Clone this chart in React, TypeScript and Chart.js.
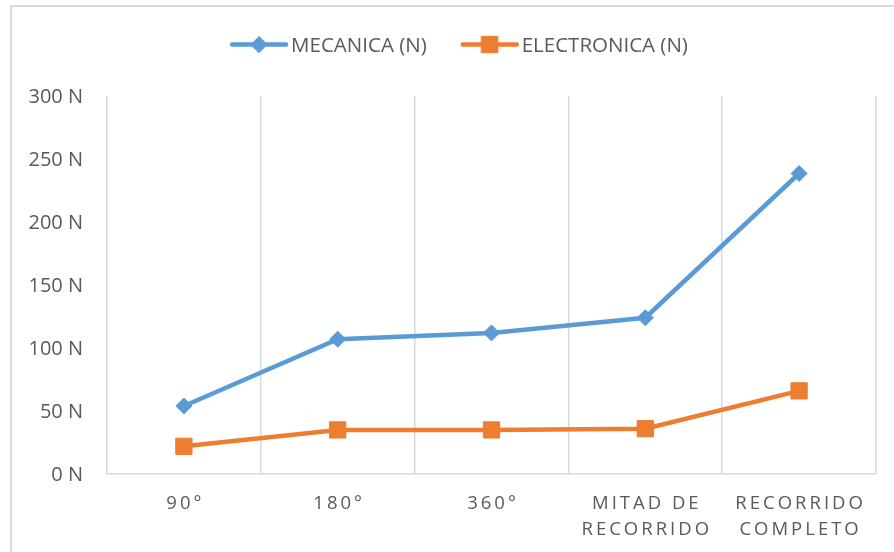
import React, { useEffect, useRef } from 'react';
import { Chart, registerables } from 'chart.js';
import { drawPoint } from 'chart.js/helpers';

Chart.register(...registerables);

// Category labels (one entry per line of the label)
const categories: string[][] = [
  ['90°'],
  ['180°'],
  ['360°'],
  ['MITAD DE', 'RECORRIDO'],
  ['RECORRIDO', 'COMPLETO'],
];

const seriesNames = ['MECANICA (N)', 'ELECTRONICA (N)'];
const mecanica = [54, 107, 112, 124, 238.5];
const electronica = [22, 35, 35, 36, 66];
const yTickValues = [0, 50, 100, 150, 200, 250, 300];

const BLUE = '#5B9BD5';
const ORANGE = '#ED7D31';
const GRID = '#D9D9D9';
const TEXT = '#595959';
const FONT = '"Open Sans", "Noto Sans", sans-serif';

// Legend drawn as a line segment with the series marker on it
const lineLegend = {
  id: 'lineLegend',
  afterDraw(chart: any) {
    const ctx = chart.ctx as CanvasRenderingContext2D;
    const lineLen = 54;
    const gap = 5;
    const between = 36;
    ctx.save();
    ctx.font = `20.5px ${FONT}`;
    const items = chart.data.datasets.map((ds: any) => ({
      ds,
      w: ctx.measureText(ds.label).width,
    }));
    const total =
      items.reduce((s: number, it: any) => s + lineLen + gap + it.w, 0) +
      between * (items.length - 1);
    let x = 460 - total / 2;
    const yLine = 44.5;
    const yText = 51.5;
    for (const it of items) {
      const ds = it.ds;
      ctx.strokeStyle = ds.borderColor;
      ctx.lineWidth = ds.borderWidth;
      ctx.lineCap = 'round';
      ctx.beginPath();
      ctx.moveTo(x, yLine);
      ctx.lineTo(x + lineLen, yLine);
      ctx.stroke();
      ctx.fillStyle = ds.pointBackgroundColor;
      ctx.strokeStyle = ds.pointBorderColor;
      ctx.lineWidth = ds.pointBorderWidth;
      drawPoint(
        ctx,
        {
          pointStyle: ds.pointStyle,
          rotation: 0,
          radius: ds.pointRadius,
          borderWidth: ds.pointBorderWidth,
        } as any,
        x + lineLen / 2,
        yLine
      );
      ctx.fillStyle = TEXT;
      ctx.textAlign = 'left';
      ctx.textBaseline = 'alphabetic';
      ctx.fillText(ds.label, x + lineLen + gap, yText);
      x += lineLen + gap + it.w + between;
    }
    ctx.restore();
  },
};

// Letter-spaced category labels under the x axis
const spacedXLabels = {
  id: 'spacedXLabels',
  afterDraw(chart: any) {
    const ctx = chart.ctx as CanvasRenderingContext2D;
    const xScale = chart.scales.x;
    const spacing = 3;
    ctx.save();
    ctx.font = `18.5px ${FONT}`;
    (ctx as any).letterSpacing = `${spacing}px`;
    ctx.fillStyle = TEXT;
    ctx.textAlign = 'center';
    ctx.textBaseline = 'alphabetic';
    const labels = chart.data.labels as string[][];
    labels.forEach((lines, i) => {
      const cx = xScale.getPixelForValue(i) + spacing / 2;
      lines.forEach((line, j) => {
        ctx.fillText(line, cx, chart.chartArea.bottom + 35 + j * 26);
      });
    });
    ctx.restore();
  },
};

export default function App() {
  const canvasRef = useRef<HTMLCanvasElement>(null);

  useEffect(() => {
    if (!canvasRef.current) return;
    const markerCommon = {
      borderWidth: 4.5,
      pointBorderWidth: 1,
      pointHoverRadius: 8,
      tension: 0,
      fill: false,
    };
    const chart = new Chart(canvasRef.current, {
      type: 'line',
      data: {
        labels: categories as any,
        datasets: [
          {
            label: seriesNames[0],
            data: mecanica,
            borderColor: BLUE,
            backgroundColor: BLUE,
            pointBackgroundColor: BLUE,
            pointBorderColor: BLUE,
            pointStyle: 'rectRot',
            pointRadius: 8,
            ...markerCommon,
          },
          {
            label: seriesNames[1],
            data: electronica,
            borderColor: ORANGE,
            backgroundColor: ORANGE,
            pointBackgroundColor: ORANGE,
            pointBorderColor: ORANGE,
            pointStyle: 'rect',
            pointRadius: 11.5,
            ...markerCommon,
          },
        ],
      },
      plugins: [lineLegend, spacedXLabels],
      options: {
        responsive: false,
        animation: false,
        devicePixelRatio: 1,
        layout: { padding: { left: 0, top: 96, right: 18, bottom: 0 } },
        plugins: {
          legend: { display: false },
          tooltip: { enabled: false },
        },
        scales: {
          x: {
            type: 'category',
            offset: true,
            grid: {
              display: true,
              offset: true,
              color: GRID,
              lineWidth: 1.5,
              drawTicks: false,
            },
            border: { display: true, color: GRID, width: 1.5 },
            ticks: { display: false },
            afterFit: (s: any) => {
              s.height = 78;
            },
          },
          y: {
            min: 0,
            max: 300,
            grid: { display: false, drawTicks: false },
            border: { display: false },
            afterBuildTicks: (s: any) => {
              s.ticks = yTickValues.map((v) => ({ value: v }));
            },
            ticks: {
              color: TEXT,
              font: { family: FONT, size: 20 },
              padding: 24,
              labelOffset: 1.5,
              callback: (v: any) => `${v} N`,
            },
            afterFit: (s: any) => {
              s.width = 107;
            },
          },
        },
      },
    });
    return () => chart.destroy();
  }, []);

  return (
    <div
      style={{
        position: 'fixed',
        left: 0,
        top: 0,
        width: 894,
        height: 552,
        overflow: 'hidden',
        background: '#fff',
      }}
    >
      <div
        style={{
          position: 'absolute',
          left: 10,
          top: 5,
          width: 940,
          height: 620,
          border: '2px solid #D9D9D9',
          boxSizing: 'border-box',
        }}
      />
      <canvas
        ref={canvasRef}
        width={894}
        height={552}
        style={{ position: 'absolute', left: 0, top: 0 }}
      />
    </div>
  );
}
